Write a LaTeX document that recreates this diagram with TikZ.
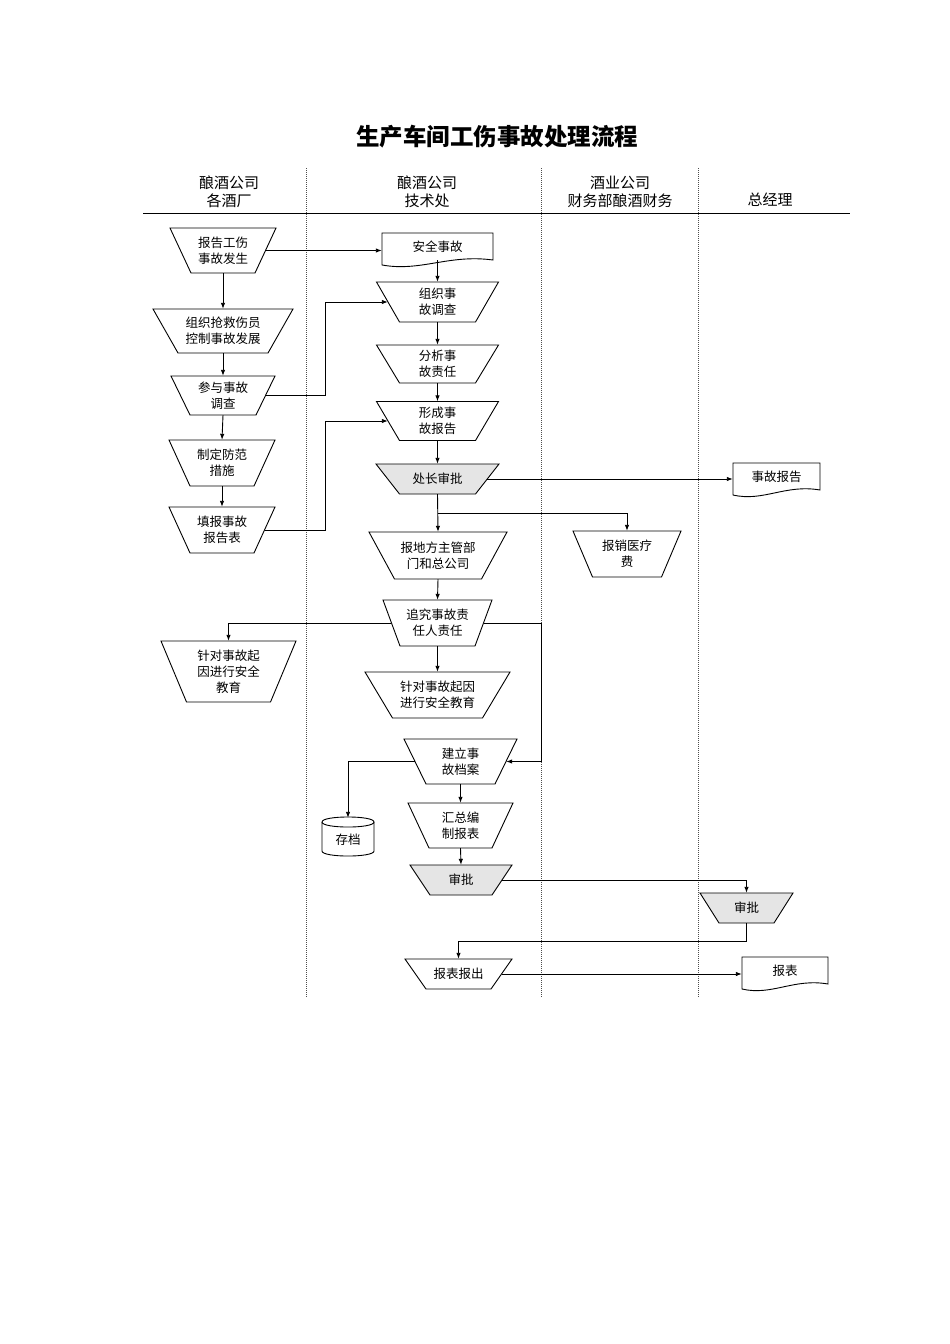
\documentclass[tikz,border=0pt]{standalone}
\usepackage{fontspec}
\newfontfamily\cjk{Noto Sans CJK SC}
\usetikzlibrary{arrows.meta,calc}
\tikzset{
  boxtext/.style={font=\cjk\fontsize{12.5}{16}\selectfont, align=center, inner sep=0pt, draw=none},
  hdr/.style={font=\cjk\fontsize{15}{18}\selectfont, align=center, inner sep=0pt},
  conn/.style={line width=0.9pt, -{Latex[length=6pt,width=4.5pt]}},
  lane/.style={line width=0.6pt, dash pattern=on 1pt off 1pt, gray!60!black},
  shapeline/.style={line width=0.9pt, draw=black}
}
\newcommand{\mytrap}[8][white]{%
  \filldraw[shapeline, fill=#1] (#3-#5/2,#4-#7/2) -- (#3+#5/2,#4-#7/2) -- (#3+#6/2,#4+#7/2) -- (#3-#6/2,#4+#7/2) -- cycle;
  \node[boxtext, minimum width={(#5+#6)/2}, minimum height={#7}] (#2) at (#3,#4) {#8};
}
\newcommand{\mydoc}[6]{%
  \pgfmathsetmacro\dw{#3-#2}%
  \filldraw[shapeline, fill=white] (#2,#4) -- (#3,#4) -- (#3,#5) .. controls ({#3-0.4*\dw},{#5-6}) and ({#2+0.35*\dw},{#5+12}) .. (#2,{#5+5}) -- cycle;
  \node[boxtext, minimum width={\dw}, minimum height={#5-#4}] (#1) at ({(#2+#3)/2},{(#4+#5)/2}) {#6};
}
\begin{document}
\begin{tikzpicture}[x=1pt,y=-1pt]
\useasboundingbox[fill=white] (0,0) rectangle (950,1344);

% title
\node[font=\cjk\bfseries\fontsize{23.5}{28}\selectfont, inner sep=0pt] (title) at (497,137) {生产车间工伤事故处理流程};

% headers
\node[hdr] (h1) at (229,192) {酿酒公司\\各酒厂};
\node[hdr] (h2) at (427,192) {酿酒公司\\技术处};
\node[hdr] (h3) at (620,192) {酒业公司\\财务部酿酒财务};
\node[hdr] (h4) at (770,200) {总经理};
\draw[line width=1pt] (143,213) -- (850,213);

% lanes
\draw[lane] (306,168) -- (306,997);
\draw[lane] (541,168) -- (541,997);
\draw[lane] (698,168) -- (698,997);

% lane 1
\mytrap{n1}{223}{250.5}{106}{64}{45}{报告工伤\\事故发生}
\mytrap{n2}{223}{331}{140}{90}{44}{组织抢救伤员\\控制事故发展}
\mytrap{n3}{223}{395.5}{104}{66}{39}{参与事故\\调查}
\mytrap{n4}{222}{463}{106}{64}{46}{制定防范\\措施}
\mytrap{n5}{222}{530}{106}{64}{46}{填报事故\\报告表}
\mytrap{n15}{228.5}{671.5}{135}{84}{61}{针对事故起\\因进行安全\\教育}

% lane 2
\mydoc{n6}{382}{493}{233}{260}{安全事故}
\mytrap{n7}{437.5}{302}{122}{76}{40}{组织事\\故调查}
\mytrap{n8}{437.5}{364}{122}{76}{38}{分析事\\故责任}
\mytrap{n9}{437.5}{421}{122}{76}{39}{形成事\\故报告}
\mytrap[gray!20]{n10}{437.5}{479}{123}{76}{30}{处长审批}
\mytrap{n11}{438}{555.5}{138}{87}{47}{报地方主管部\\门和总公司}
\mytrap{n14}{437.5}{623}{109}{75}{46}{追究事故责\\任人责任}
\mytrap{n16}{437.5}{695}{145}{90}{46}{针对事故起因\\进行安全教育}
\mytrap{n17}{460.5}{761.5}{113}{69}{45}{建立事\\故档案}
\mytrap{n19}{460.5}{825.5}{105}{63}{45}{汇总编\\制报表}
\mytrap[gray!20]{n20}{461}{880}{102}{62}{30}{审批}
\mytrap{n22}{458.5}{974}{107}{65}{30}{报表报出}

% cylinder
\filldraw[shapeline, fill=white] (322,822) -- (322,851) .. controls (322,857.7) and (374,857.7) .. (374,851) -- (374,822) .. controls (374,815.3) and (322,815.3) .. (322,822) -- cycle;
\draw[shapeline] (322,822) .. controls (322,828.7) and (374,828.7) .. (374,822);
\node[boxtext, minimum width=52, minimum height=44] (n18) at (348,840) {存档};

% lane 3
\mytrap{n12}{627}{554}{108}{69}{46}{报销医疗\\费}

% lane 4
\mydoc{n13}{733}{820}{463}{490}{事故报告}
\mytrap[gray!20]{n21}{746.5}{908}{93}{55}{30}{审批}
\mydoc{n23}{742}{828}{957}{984}{报表}

% junction coordinates
\coordinate (j1) at (325,0);
\coordinate (j2) at (0,513);
\coordinate (j3) at (541,0);
\coordinate (j4) at (0,941);

% connectors
\draw[conn] (n1.east) -- (n1.east -| n6.west);
\draw[conn] (n1.south) -- (n2.north);
\draw[conn] (n2.south) -- (n3.north);
\draw[conn] (n3.south) -- (n4.north);
\draw[conn] (n4.south) -- (n5.north);
\draw[conn] (n3.east) -- (n3.east -| j1) |- (n7.west);
\draw[conn] (n5.east) -- (n5.east -| j1) |- (n9.west);
\draw[conn] (n6.south) -- (n7.north);
\draw[conn] (n7.south) -- (n8.north);
\draw[conn] (n8.south) -- (n9.north);
\draw[conn] (n9.south) -- (n10.north);
\draw[conn] (n10.east) -- (n10.east -| n13.west);
\draw[conn] (n10.south) -- (n11.north);
\draw[conn] (n10.south |- j2) -| (n12.north);
\draw[conn] (n11.south) -- (n14.north);
\draw[conn] (n14.west) -| (n15.north);
\draw[conn] (n14.south) -- (n16.north);
\draw[conn] (n14.east) -- (n14.east -| j3) |- (n17.east);
\draw[conn] (n17.west) -| (n18.north);
\draw[conn] (n17.south) -- (n19.north);
\draw[conn] (n19.south) -- (n20.north);
\draw[conn] (n20.east) -| (n21.north);
\draw[conn] (n21.south) -- (n21.south |- j4) -| (n22.north);
\draw[conn] (n22.east) -- (n22.east -| n23.west);
\end{tikzpicture}
\end{document}
